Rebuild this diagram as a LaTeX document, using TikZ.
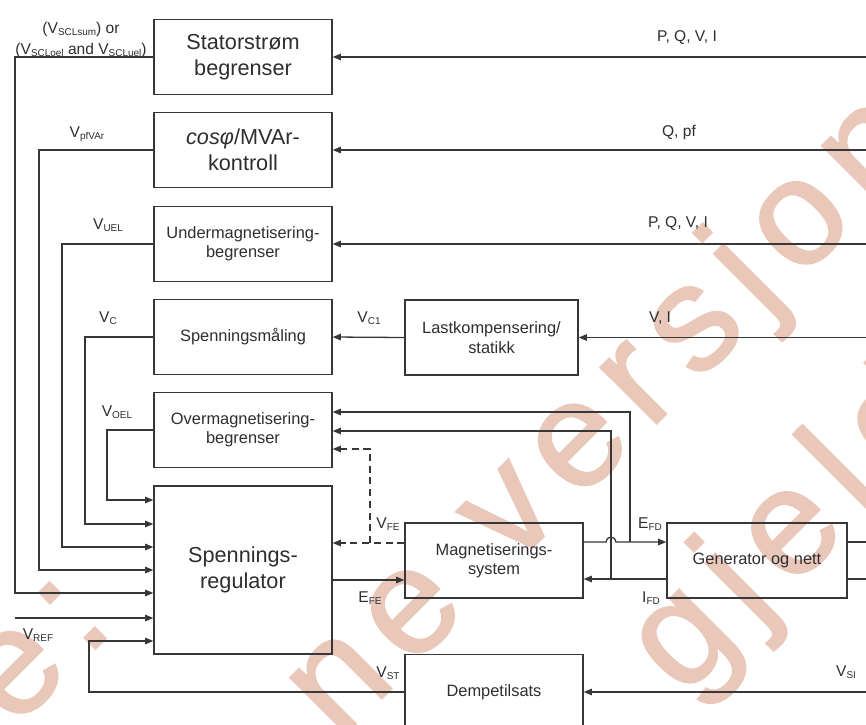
\documentclass[tikz,border=0pt]{standalone}
\usepackage{fontspec}
\usepackage{xcolor}
\setmainfont{Liberation Sans}
\newfontfamily\wmfont[LetterSpace=12, FakeBold=1.5]{Liberation Sans}
\usetikzlibrary{arrows.meta, calc}
\definecolor{linegray}{RGB}{55, 55, 55}
\definecolor{textgray}{RGB}{45, 45, 50}
\definecolor{wmsalmon}{RGB}{233, 200, 186}
\newcommand{\bigtxt}{\fontsize{18.5}{22}\selectfont}
\newcommand{\smalltxt}{\fontsize{14}{16.5}\selectfont}
\newcommand{\lbltxt}{\fontsize{13.3}{17.5}\selectfont}
\newcommand{\wmtxt}{\wmfont\fontsize{128}{128}\selectfont}
\newcommand{\sig}[2]{#1\raisebox{-0.25ex}{\fontsize{8.5}{9}\selectfont #2}}

\begin{document}
\begin{tikzpicture}[
    x=0.03cm, y=-0.03cm,
    box/.style={draw=linegray, line width=1.1pt, minimum width=5.34cm, minimum height=2.25cm, align=center, inner sep=2pt, text=textgray, font=\smalltxt},
    bigbox/.style={box, font=\bigtxt},
    arr/.style={-{Triangle[length=7pt, width=5.5pt]}, line width=1.1pt, linegray},
    wire/.style={line width=1.1pt, linegray},
    lbl/.style={font=\lbltxt, inner sep=0pt, text=textgray},
    wmark/.style={text=wmsalmon, font=\wmtxt, inner sep=0pt, anchor=base west, rotate=45}
]
\useasboundingbox (0,0) rectangle (866,724);
\clip (0,0) rectangle (866,724);

% watermark
\node[wmark] (wm0) at (14,730) {e:};
\node[wmark] (wm1) at (339,741) {ne versjon};
\node[wmark] (wm2) at (683,698) {gjeldende};

% blocks
\node[bigbox] (stator) at (243,57) {Statorstrøm\\begrenser};
\node[bigbox] (cosphi) at (243,150) {\textit{cosφ}/MVAr-\\kontroll};
\node[box] (under) at (243,244) {Undermagnetisering-\\begrenser};
\node[box] (maaling) at (243,337) {Spenningsmåling};
\node[box] (over) at (243,430) {Overmagnetisering-\\begrenser};
\node[bigbox, minimum height=5.04cm] (reg) at (243,570) {Spennings-\\regulator};
\node[box, minimum width=5.19cm] (last) at (491.5,337.5) {Lastkompensering/\\statikk};
\node[box] (magn) at (494,560.5) {Magnetiserings-\\system};
\node[box, minimum width=5.4cm] (gen) at (757,560.5) {Generator og nett};
\node[box] (demp) at (494,692) {Dempetilsats};

\coordinate (edge) at (875,0);
\coordinate (jI) at (611,0);
\coordinate (jE) at (630,0);
\coordinate (vref) at (15,618);

% inputs on the regulator's left side
\foreach \k/\yy in {1/500, 2/524, 3/547, 4/570, 5/593, 6/618, 7/641} {
    \coordinate (in\k) at (reg.west |- 0,\yy);
}

% signals coming in from the right
\foreach \b in {stator, cosphi, under, last, demp} {
    \draw[arr] (\b.east -| edge) -- (\b.east);
}
\draw[arr] (last.west) -- (maaling.east);

% feedback to the regulator
\foreach \b/\xx/\k in {over/107/1, maaling/85/2, under/62/3, cosphi/39/4, stator/15/5} {
    \draw[arr] (\b.west) -- (\b.west -| \xx,0) |- (in\k);
}
\draw[arr] (vref) -- (in6);
\draw[arr] (demp.west) -- (demp.west -| 89,0) |- (in7);

% regulator <-> excitation system
\draw[arr, dashed, dash pattern=on 6pt off 4pt] (magn.west |- 0,543) -- (reg.east |- 0,543);
\draw[arr, dashed, dash pattern=on 6pt off 4pt] (370,0 |- magn.west) ++(0,-17.5) |- (over.east |- 0,449);
\draw[arr] (reg.east |- 0,580) -- (magn.west |- 0,580);

% excitation system <-> generator
\draw[arr] (magn.east |- 0,542) -- ($(jI |- 0,542)+(-5,0)$) arc[start angle=180, end angle=0, radius=0.15cm] -- (gen.west |- 0,542);
\draw[arr] (gen.west |- 0,579) -- (magn.east |- 0,579);
\draw[arr] (jE |- 0,542) |- (over.east |- 0,412);
\draw[arr] (jI |- 0,579) |- (over.east |- 0,431);
\draw[wire] (gen.east |- 0,542) -- (edge |- 0,542);
\draw[wire] (gen.east |- 0,579) -- (edge |- 0,579);

% signal labels
\node[lbl] (lPQVIa) at (687,38) {P, Q, V, I};
\node[lbl] (lQpf) at (679,132) {Q, pf};
\node[lbl] (lPQVIb) at (678,224) {P, Q, V, I};
\node[lbl] (lVI) at (660,318) {V, I};
\node[lbl] (lVC1) at (369,318) {\sig{V}{C1}};
\node[lbl, align=center] (lSCL) at (81,40) {(\sig{V}{SCLsum}) or\\(\sig{V}{SCLoel} and \sig{V}{SCLuel})};
\node[lbl] (lpf) at (87,134) {\sig{V}{pfVAr}};
\node[lbl] (lUEL) at (108,225) {\sig{V}{UEL}};
\node[lbl] (lC) at (108,318) {\sig{V}{C}};
\node[lbl] (lOEL) at (117,412) {\sig{V}{OEL}};
\node[lbl] (lFE) at (388,524) {\sig{V}{FE}};
\node[lbl] (lEFE) at (370,598) {\sig{E}{FE}};
\node[lbl] (lST) at (388,673) {\sig{V}{ST}};
\node[lbl] (lEFD) at (650,524) {\sig{E}{FD}};
\node[lbl] (lIFD) at (651,598) {\sig{I}{FD}};
\node[lbl] (lSI) at (846,672) {\sig{V}{SI}};
\node[lbl] (lREF) at (38,635) {\sig{V}{REF}};

\end{tikzpicture}
\end{document}
